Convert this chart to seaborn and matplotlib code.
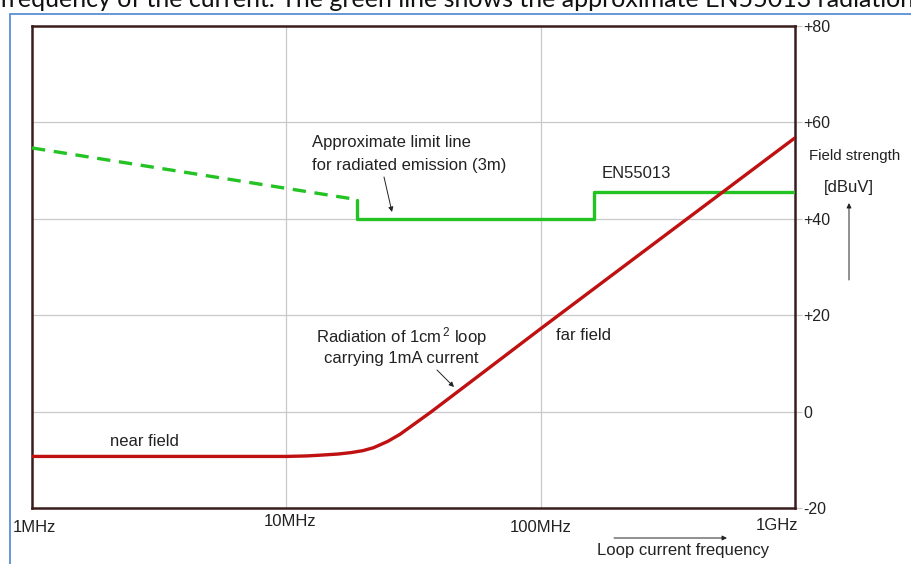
import numpy as np
import pandas as pd
import matplotlib
matplotlib.use("Agg")
import matplotlib.pyplot as plt
from matplotlib.patches import Rectangle
import seaborn as sns

# ---------- data ----------
red_freq_mhz = [1, 10, 12, 14, 16, 18, 20, 22, 25, 28, 32, 37, 45, 60, 100, 1000]
red_db = [-9.3, -9.3, -9.2, -9.0, -8.8, -8.5, -8.1, -7.5, -6.2, -4.7, -2.5,
          -0.1, 3.3, 8.3, 17.2, 56.8]

limit_dash_freq = [1, 18.9]
limit_dash_db = [54.7, 44.0]

limit_freq = [18.9, 18.9, 162, 162, 1000]
limit_db = [44.0, 40.0, 40.0, 45.6, 45.6]

x_ticks = [1, 10, 100, 1000]
x_labels = ["1MHz", "10MHz", "100MHz", "1GHz"]
y_ticks = [-20, 0, 20, 40, 60, 80]
y_labels = ["-20", "0", "+20", "+40", "+60", "+80"]

red = pd.DataFrame({"f": red_freq_mhz, "db": red_db})
dash = pd.DataFrame({"f": limit_dash_freq, "db": limit_dash_db})
limit = pd.DataFrame({"f": limit_freq, "db": limit_db})

# ---------- style ----------
sns.set_style("white")
plt.rcParams["font.family"] = ["Liberation Sans", "DejaVu Sans"]
plt.rcParams["mathtext.fontset"] = "custom"
plt.rcParams["mathtext.rm"] = "Liberation Sans"
plt.rcParams["mathtext.it"] = "Liberation Sans"

fig = plt.figure(figsize=(9.11, 5.64), dpi=100)
ax = fig.add_axes([32 / 911, 1 - 508 / 564, (795 - 32) / 911, (508 - 26) / 564])

ax.set_xscale("log")
ax.set_xlim(1, 1000)
ax.set_ylim(-20, 80)

# grid
for v in [10, 100]:
    ax.axvline(v, color="#c8c8c8", lw=0.9, zorder=0)
for v in [0, 20, 40, 60]:
    ax.axhline(v, color="#c8c8c8", lw=0.9, zorder=0)

# lines
sns.lineplot(data=dash, x="f", y="db", ax=ax, color="#22c322", lw=2.4,
             estimator=None, sort=False, linestyle=(0, (4, 2.6)), zorder=3)
sns.lineplot(data=limit, x="f", y="db", ax=ax, color="#22c322", lw=2.4,
             estimator=None, sort=False, zorder=3)
sns.lineplot(data=red, x="f", y="db", ax=ax, color="#bf1111", lw=2.4,
             estimator=None, sort=False, zorder=4)

# frame
for s in ax.spines.values():
    s.set_color("#3a1c1c")
    s.set_linewidth(1.8)
    s.set_visible(True)

# y ticks on the right
ax.yaxis.tick_right()
ax.set_yticks(y_ticks)
ax.set_yticklabels(y_labels)
ax.tick_params(axis="y", right=True, length=5, width=0.9, color="#c8c8c8",
               pad=1, labelsize=11.5, labelcolor="#222222")
ax.set_xticks(x_ticks)
ax.set_xticklabels([])
ax.tick_params(axis="x", bottom=False, length=0)
ax.minorticks_off()
ax.set_xlabel("")
ax.set_ylabel("")

# x labels placed by hand (as in the reference)
x_offsets = [(2, -20), (4, -14), (0, -19), (-18, -17)]
for v, lab, (dx, dy) in zip(x_ticks, x_labels, x_offsets):
    ax.annotate(lab, xy=(v, 0), xycoords=("data", "axes fraction"),
                xytext=(dx, dy), textcoords="offset pixels",
                ha="center", va="center", fontsize=12, color="#222222",
                annotation_clip=False)

tk = dict(fontsize=12, color="#222222", transform=fig.transFigure)
fig.text(312 / 911, 1 - 143 / 564, "Approximate limit line", ha="left", va="center", **tk)
fig.text(312 / 911, 1 - 165 / 564, "for radiated emission (3m)", ha="left", va="center", **tk)
fig.text(636 / 911, 1 - 173 / 564, "EN55013", ha="center", va="center", **tk)
fig.text(401 / 911, 1 - 337 / 564, "Radiation of 1cm$^{\\,2}$ loop", ha="center", va="center", **tk)
fig.text(401 / 911, 1 - 359 / 564, "carrying 1mA current", ha="center", va="center", **tk)
fig.text(584 / 911, 1 - 335 / 564, "far field", ha="center", va="center", **tk)
fig.text(144 / 911, 1 - 442 / 564, "near field", ha="center", va="center", **tk)
fig.text(849 / 911, 1 - 188 / 564, "[dBuV]", ha="center", va="center", **tk)
fig.text(683 / 911, 1 - 550 / 564, "Loop current frequency", ha="center", va="center", **tk)
# slightly smaller so it stays inside the picture
fig.text(809 / 911, 1 - 156 / 564, "Field strength", ha="left", va="center",
         fontsize=10.8, color="#222222")

# small arrows
def arrow(x0, y0, x1, y1):
    ax.annotate("", xy=(x1 / 911, 1 - y1 / 564), xytext=(x0 / 911, 1 - y0 / 564),
                xycoords="figure fraction", textcoords="figure fraction",
                arrowprops=dict(arrowstyle="-|>", color="#222222", lw=0.7,
                                mutation_scale=7, shrinkA=0, shrinkB=0),
                annotation_clip=False)

arrow(384, 177, 392, 212)
arrow(437, 370, 454, 387)
arrow(849, 280, 849, 203)
arrow(614, 538, 727, 538)

# outer blue frame and cut caption line from the page
fig.add_artist(Rectangle((10 / 911, -0.1), 1.2, 1 - 14 / 564 + 0.1,
                         transform=fig.transFigure, fill=False,
                         edgecolor="#5b8fd6", lw=1.3))
fig.text(0, 1 - 7 / 564,
         "frequency of the current. The green line shows the approximate EN55013 radiation",
         ha="left", va="baseline", fontsize=18, color="#111111",
         family=["Lato", "DejaVu Sans"])

fig.savefig("out.png", dpi=100)
